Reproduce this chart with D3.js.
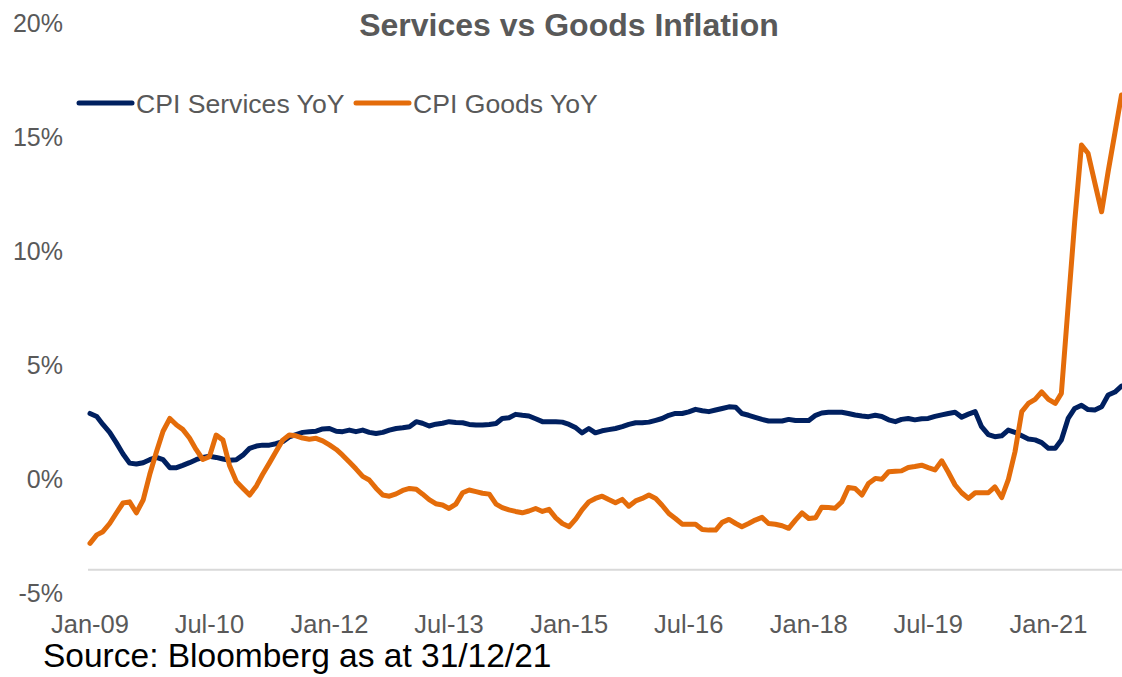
<!DOCTYPE html>
<html>
<head>
<meta charset="utf-8">
<script src="https://cdn.jsdelivr.net/npm/d3@7"></script>
<style>
  body { margin: 0; background: #fff; }
  svg { display: block; font-family: "Liberation Sans", Arial, sans-serif; }
</style>
</head>
<body>
<script>
var svgWidth = 1122;
var svgHeight = 677;

// monthly, Jan-09 .. Dec-21
var startMonth = new Date(2009, 0, 1);

var servicesYoY = [
    2.88, 2.75, 2.4, 2.05, 1.6, 1.1, 0.7, 0.66, 0.72, 0.85, 0.95, 0.85,
    0.5, 0.5, 0.6, 0.72, 0.85, 0.95, 1.0, 0.95, 0.88, 0.83, 0.85, 1.05,
    1.35, 1.45, 1.49, 1.49, 1.55, 1.64, 1.85, 1.95, 2.05, 2.08, 2.1, 2.2,
    2.22, 2.1, 2.08, 2.15, 2.08, 2.15, 2.05, 2.0, 2.05, 2.15, 2.22, 2.25,
    2.3, 2.52, 2.45, 2.33, 2.41, 2.45, 2.52, 2.48, 2.47, 2.4, 2.37, 2.37,
    2.4, 2.44, 2.66, 2.69, 2.84, 2.8, 2.77, 2.65, 2.52, 2.52, 2.52, 2.5,
    2.4, 2.25, 2.03, 2.22, 2.03, 2.12, 2.17, 2.22, 2.3, 2.4, 2.47, 2.47,
    2.5, 2.58, 2.66, 2.8, 2.88, 2.88, 2.95, 3.06, 3.0, 2.96, 3.03, 3.1,
    3.17, 3.15, 2.88, 2.8, 2.71, 2.62, 2.55, 2.55, 2.55, 2.62, 2.57, 2.57,
    2.57, 2.8, 2.9, 2.93, 2.93, 2.93, 2.88, 2.81, 2.77, 2.74, 2.8, 2.75,
    2.6, 2.52, 2.62, 2.66, 2.6, 2.65, 2.66, 2.75, 2.82, 2.88, 2.93, 2.72,
    2.85, 2.96, 2.3, 1.95, 1.86, 1.9, 2.15, 2.05, 1.9, 1.76, 1.72, 1.6,
    1.35, 1.35, 1.71, 2.66, 3.1, 3.24, 3.05, 3.03, 3.17, 3.69, 3.82, 4.08
];

var goodsYoY = [
    -2.82, -2.45, -2.31, -1.95, -1.5, -1.05, -1.0, -1.48, -0.92, 0.2, 1.2, 2.1,
    2.66, 2.37, 2.18, 1.8, 1.3, 0.86, 0.98, 1.93, 1.71, 0.6, -0.1, -0.4,
    -0.7, -0.3, 0.2, 0.7, 1.2, 1.71, 1.93, 1.9, 1.8, 1.75, 1.79, 1.68,
    1.5, 1.3, 1.05, 0.75, 0.45, 0.12, -0.04, -0.4, -0.7, -0.75, -0.65, -0.5,
    -0.41, -0.45, -0.65, -0.9, -1.08, -1.14, -1.29, -1.1, -0.6, -0.48, -0.55, -0.62,
    -0.66, -1.1, -1.25, -1.35, -1.42, -1.48, -1.4, -1.29, -1.42, -1.33, -1.7, -1.95,
    -2.09, -1.75, -1.35, -1.0, -0.85, -0.75, -0.9, -1.04, -0.89, -1.19, -0.96, -0.85,
    -0.7, -0.85, -1.15, -1.51, -1.73, -1.98, -1.98, -1.98, -2.21, -2.24, -2.24, -1.9,
    -1.77, -1.95, -2.09, -1.95, -1.8, -1.68, -1.95, -1.98, -2.05, -2.16, -1.8, -1.48,
    -1.73, -1.7, -1.24, -1.25, -1.28, -1.0, -0.37, -0.41, -0.7, -0.19, 0.03, -0.01,
    0.32, 0.34, 0.36, 0.51, 0.55, 0.61, 0.5, 0.4, 0.8, 0.3, -0.26, -0.6,
    -0.85, -0.6, -0.6, -0.6, -0.34, -0.81, -0.04, 1.2, 2.96, 3.32, 3.5, 3.83,
    3.5, 3.32, 3.76, 7.6, 11.3, 14.66, 14.3, 13.0, 11.73, 13.5, 15.2, 16.86
];

var yTicks = [-5, 0, 5, 10, 15, 20];
var xTickLabels = ["Jan-09", "Jul-10", "Jan-12", "Jul-13", "Jan-15", "Jul-16", "Jan-18", "Jul-19", "Jan-21"];
var seriesNames = ["CPI Services YoY", "CPI Goods YoY"];
var seriesColors = ["#002060", "#E46C0A"];
var axisCross = -3.98;

var months = servicesYoY.map(function (d, i) {
    return d3.timeMonth.offset(startMonth, i);
});

var x = d3.scaleTime()
    .domain([months[0], months[months.length - 1]])
    .range([90, 1121.5]);

var y = d3.scaleLinear()
    .domain([-5, 20])
    .range([593, 23.4]);

var svg = d3.select("body")
    .append("svg")
    .attr("width", svgWidth)
    .attr("height", svgHeight);

// title
svg.append("text")
    .attr("x", 569)
    .attr("y", 36)
    .attr("text-anchor", "middle")
    .attr("font-size", "32px")
    .attr("font-weight", "bold")
    .attr("fill", "#595959")
    .text("Services vs Goods Inflation");

// y labels
svg.selectAll(".ylab")
    .data(yTicks)
    .enter()
    .append("text")
    .attr("class", "ylab")
    .attr("x", 63)
    .attr("y", function (d) { return y(d) + 9; })
    .attr("text-anchor", "end")
    .attr("font-size", "25px")
    .attr("fill", "#595959")
    .text(function (d) { return d + "%"; });

// horizontal axis line
svg.append("line")
    .attr("x1", 88)
    .attr("x2", svgWidth)
    .attr("y1", y(axisCross))
    .attr("y2", y(axisCross))
    .attr("stroke", "#D9D9D9")
    .attr("stroke-width", 2);

// x labels, every 18 months
svg.selectAll(".xlab")
    .data(xTickLabels)
    .enter()
    .append("text")
    .attr("class", "xlab")
    .attr("x", function (d, i) { return x(months[i * 18]); })
    .attr("y", 633)
    .attr("text-anchor", "middle")
    .attr("font-size", "25.5px")
    .attr("fill", "#595959")
    .text(function (d) { return d; });

var line = d3.line()
    .x(function (d, i) { return x(months[i]); })
    .y(function (d) { return y(d); });

svg.selectAll(".series")
    .data([servicesYoY, goodsYoY])
    .enter()
    .append("path")
    .attr("class", "series")
    .attr("d", line)
    .attr("fill", "none")
    .attr("stroke", function (d, i) { return seriesColors[i]; })
    .attr("stroke-width", 5)
    .attr("stroke-linejoin", "round")
    .attr("stroke-linecap", "round");

// legend
var legendX = [79, 356];
var legend = svg.selectAll(".legend")
    .data(seriesNames)
    .enter()
    .append("g")
    .attr("class", "legend")
    .attr("transform", function (d, i) { return "translate(" + legendX[i] + ",103)"; });

legend.append("line")
    .attr("x1", 0)
    .attr("x2", 53)
    .attr("stroke", function (d, i) { return seriesColors[i]; })
    .attr("stroke-width", 5)
    .attr("stroke-linecap", "round");

legend.append("text")
    .attr("x", 57)
    .attr("y", 9.5)
    .attr("font-size", "26.6px")
    .attr("fill", "#595959")
    .text(function (d) { return d; });

// source
svg.append("text")
    .attr("x", 43)
    .attr("y", 667)
    .attr("font-size", "33.5px")
    .attr("fill", "#000")
    .text("Source: Bloomberg as at 31/12/21");
</script>
</body>
</html>
